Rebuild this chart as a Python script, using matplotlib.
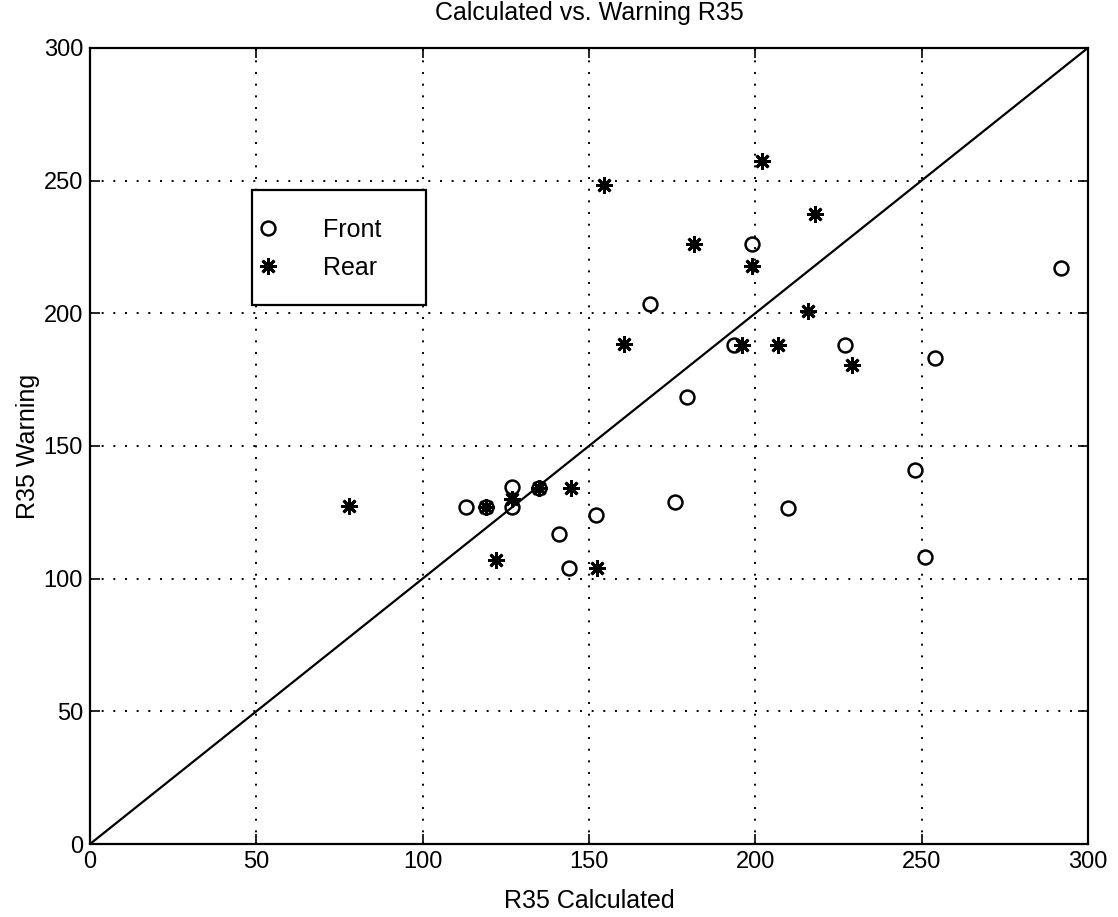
import matplotlib
matplotlib.use('Agg')
import matplotlib.pyplot as plt
from matplotlib.patches import Rectangle

plt.rcParams['font.family'] = ['Liberation Sans', 'DejaVu Sans']

# Front axle values (calculated, warning)
front_calc = [113, 119, 127, 127, 135, 141, 144, 152, 176, 210,
              168.5, 179.5, 193.5, 199, 227, 248, 251, 254, 292]
front_warn = [127, 127, 134.5, 127, 134, 117, 104, 124, 129, 126.5,
              203.5, 168.5, 188, 226, 188, 141, 108, 183, 217]

# Rear axle values (calculated, warning)
rear_calc = [78, 119, 122, 127, 135, 144.5, 152.5, 154.5, 160.5, 181.5,
             196, 199, 202, 207, 216, 218, 229]
rear_warn = [127.5, 127, 107, 130, 134, 134, 104, 248.5, 188.5, 226,
             188, 218, 257.5, 188, 201, 237.5, 180.5]

ticks = [0, 50, 100, 150, 200, 250, 300]

fig = plt.figure(figsize=(11.18, 9.17), dpi=100)
ax = fig.add_axes([0.0805, 0.0796, 0.8925, 0.8681])

# 1:1 reference line
ax.plot([0, 300], [0, 300], color='black', linewidth=1.6)

ax.plot(front_calc, front_warn, linestyle='none', marker='o', markersize=10,
        markerfacecolor='none', markeredgecolor='black', markeredgewidth=1.8,
        label='Front')
ax.plot(rear_calc, rear_warn, linestyle='none', marker=(8, 2, 0), markersize=12,
        color='black', markeredgewidth=2.0, label='Rear')

ax.set_xlim(0, 300)
ax.set_ylim(0, 300)
ax.set_xticks(ticks)
ax.set_yticks(ticks)
ax.tick_params(direction='in', length=7, width=1.2, labelsize=17, pad=5,
               top=True, right=True)
ax.grid(True, linestyle=(0, (1, 5)), color='black', linewidth=1.4)
for spine in ax.spines.values():
    spine.set_linewidth(1.6)

ax.set_title('Calculated vs. Warning R35', fontsize=18, pad=20)
ax.set_xlabel('R35 Calculated', fontsize=18)
ax.set_ylabel('R35 Warning', fontsize=18)
ax.xaxis.set_label_coords(0.5, -0.056)
ax.yaxis.set_label_coords(-0.05, 0.5)

# legend box (MATLAB style, roomy frame)
ax.add_patch(Rectangle((0.162, 0.677), 0.1745, 0.1445, transform=ax.transAxes,
                       facecolor='white', edgecolor='black', linewidth=1.6,
                       zorder=4))
leg = ax.legend(loc='center left', bbox_to_anchor=(0.163, 0.7475),
                fontsize=18, frameon=False, borderpad=0, handlelength=1.2,
                handletextpad=1.6, labelspacing=0.55, borderaxespad=0)
leg.set_zorder(5)

fig.savefig('out.png', dpi=100)
